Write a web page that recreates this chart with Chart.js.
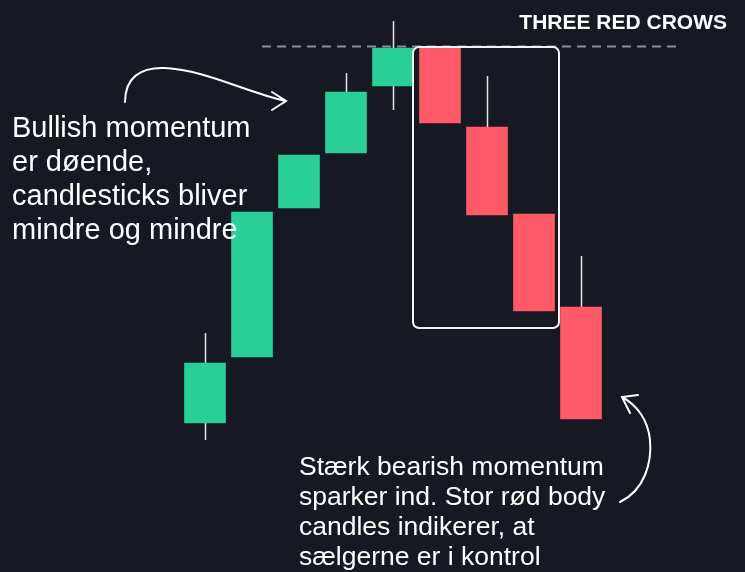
<!DOCTYPE html>
<html>
<head>
<meta charset="utf-8">
<script src="https://cdn.jsdelivr.net/npm/chart.js@4.4.1/dist/chart.umd.min.js"></script>
<style>
  html, body { margin: 0; padding: 0; background: #161922; }
  #chart { display: block; }
</style>
</head>
<body>
<canvas id="chart" width="745" height="572"></canvas>
<script>
// candle data (price units)
const labels = ['1', '2', '3', '4', '5', '6', '7', '8', '9'];
const opens  = [149, 215, 364, 419, 486, 525, 445, 358, 265];
const closes = [209, 360, 417, 480, 524, 449, 357, 261, 153];
const highs  = [239, 360, 417, 499, 551, 525, 496, 358, 316];
const lows   = [132, 215, 364, 419, 462, 449, 357, 261, 153];
const resistance = 525.5;
const boxBottom = 244;

const green = '#29cf97';
const red = '#ff5a67';

const bodies = opens.map((o, i) => [Math.min(o, closes[i]), Math.max(o, closes[i])]);
const colors = opens.map((o, i) => closes[i] >= o ? green : red);

const wickPlugin = {
  id: 'wicks',
  beforeDatasetsDraw(chart) {
    const { ctx, scales: { x, y } } = chart;
    ctx.save();
    ctx.strokeStyle = '#e4e4e4';
    ctx.lineWidth = 1.5;
    labels.forEach((l, i) => {
      const px = Math.round(x.getPixelForValue(i)) + 0.5;
      ctx.beginPath();
      ctx.moveTo(px, y.getPixelForValue(highs[i]));
      ctx.lineTo(px, y.getPixelForValue(lows[i]));
      ctx.stroke();
    });
    ctx.restore();
  }
};

const notesPlugin = {
  id: 'notes',
  afterDraw(chart) {
    const { ctx, scales: { x, y } } = chart;
    ctx.save();

    // dashed resistance line
    const ly = y.getPixelForValue(resistance);
    ctx.strokeStyle = '#8b8d93';
    ctx.lineWidth = 2;
    ctx.setLineDash([9, 6]);
    ctx.beginPath();
    ctx.moveTo(262, ly);
    ctx.lineTo(679, ly);
    ctx.stroke();
    ctx.setLineDash([]);

    // box around the three red crows
    const bx0 = x.getPixelForValue(5) - 27;
    const bx1 = x.getPixelForValue(7) + 25;
    const by0 = y.getPixelForValue(opens[5]);
    const by1 = y.getPixelForValue(boxBottom);
    ctx.strokeStyle = '#f2f2f2';
    ctx.lineWidth = 2;
    ctx.beginPath();
    ctx.roundRect(bx0, by0, bx1 - bx0, by1 - by0, 6);
    ctx.stroke();

    // title
    ctx.fillStyle = '#ffffff';
    ctx.font = 'bold 21px "Liberation Sans", Arial, sans-serif';
    ctx.textAlign = 'right';
    ctx.textBaseline = 'alphabetic';
    ctx.fillText('THREE RED CROWS', 727, 29);

    // notes
    ctx.textAlign = 'left';
    ctx.font = '29px "Liberation Sans", Arial, sans-serif';
    ['Bullish momentum', 'er døende,', 'candlesticks bliver', 'mindre og mindre']
      .forEach((t, i) => ctx.fillText(t, 12, 137 + i * 34));
    ctx.font = '26.5px "Liberation Sans", Arial, sans-serif';
    ['Stærk bearish momentum', 'sparker ind. Stor rød body', 'candles indikerer, at', 'sælgerne er i kontrol']
      .forEach((t, i) => ctx.fillText(t, 299, 475 + i * 30));

    // arrows
    ctx.strokeStyle = '#ffffff';
    ctx.lineWidth = 2;
    ctx.lineCap = 'round';
    ctx.beginPath();
    ctx.moveTo(125, 102);
    ctx.bezierCurveTo(125, 78, 140, 67, 165, 68);
    ctx.bezierCurveTo(205, 70, 245, 92, 286, 101);
    ctx.moveTo(272, 92);
    ctx.lineTo(286, 101);
    ctx.lineTo(272, 110);
    ctx.stroke();

    ctx.beginPath();
    ctx.moveTo(620, 502);
    ctx.bezierCurveTo(645, 490, 652, 462, 650, 440);
    ctx.bezierCurveTo(648, 420, 637, 405, 622, 397);
    ctx.moveTo(638, 395);
    ctx.lineTo(622, 397);
    ctx.lineTo(630, 413);
    ctx.stroke();

    ctx.restore();
  }
};

new Chart(document.getElementById('chart'), {
  type: 'bar',
  data: {
    labels: labels,
    datasets: [{
      data: bodies,
      backgroundColor: colors,
      borderWidth: 0,
      barThickness: 41,
      clip: false
    }]
  },
  options: {
    responsive: false,
    animation: false,
    devicePixelRatio: 1,
    layout: { padding: { left: 205, right: 164, top: 0, bottom: 0 } },
    plugins: { legend: { display: false }, tooltip: { enabled: false } },
    scales: {
      x: { display: false, offset: false, grid: { display: false } },
      y: { display: false, min: 0, max: 572, grid: { display: false } }
    }
  },
  plugins: [wickPlugin, notesPlugin]
});
</script>
</body>
</html>
